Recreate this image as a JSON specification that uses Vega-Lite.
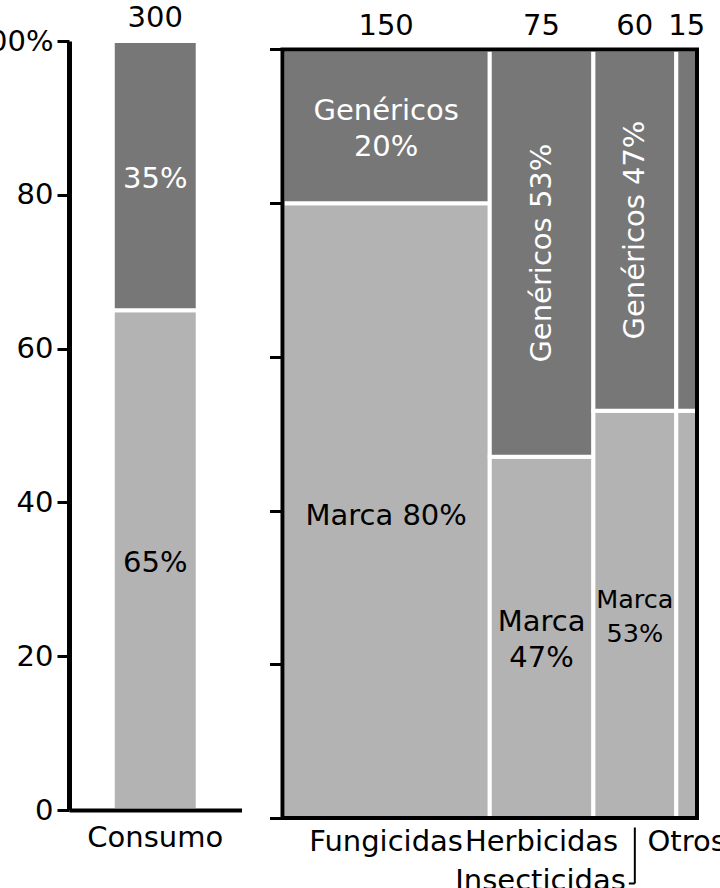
{
  "$schema": "https://vega.github.io/schema/vega-lite/v6.json",
  "padding": {"left": -30, "top": 4, "right": 0, "bottom": 0},
  "config": {"font": "DejaVu Sans", "view": {"stroke": null}, "axis": {"labelFont": "DejaVu Sans"}},
  "bounds": "flush",
  "spacing": 40.5,
  "hconcat": [
    {
      "width": 172.5,
      "height": 769,
      "data": {"values": [
        {"cat": "Consumo", "tipo": "Marca", "pct": 65, "vol": 300, "etiqueta": "65%"},
        {"cat": "Consumo", "tipo": "Genéricos", "pct": 35, "vol": 300, "etiqueta": "35%"}
      ]},
      "transform": [
        {"stack": "pct", "groupby": ["cat"], "sort": [{"field": "tipo", "order": "descending"}], "as": ["y0", "y1"]}
      ],
      "layer": [
        {
          "mark": {"type": "bar", "stroke": "white", "strokeWidth": 4},
          "encoding": {
            "x": {"field": "cat", "type": "nominal", "title": null, "scale": {"padding": 0.34},
              "axis": {"title": null, "labelAngle": 0, "ticks": false, "domainWidth": 4, "domainColor": "black", "labelFontSize": 29, "labelColor": "black", "labelPadding": 13, "zindex": 1}},
            "y": {"field": "y0", "type": "quantitative", "title": null, "scale": {"domain": [0, 100], "nice": false},
              "axis": {"title": null, "values": [0, 20, 40, 60, 80, 100], "labelExpr": "datum.value == 100 ? '100%' : datum.label", "domainWidth": 5, "domainColor": "black", "tickSize": 12, "tickWidth": 3, "tickColor": "black", "labelFontSize": 29, "labelColor": "black", "labelPadding": 4, "grid": false, "zindex": 1}},
            "y2": {"field": "y1"},
            "color": {"field": "tipo", "type": "nominal", "scale": {"domain": ["Marca", "Genéricos"], "range": ["#b3b3b3", "#777777"]}, "legend": null}
          }
        },
        {
          "transform": [
            {"fold": ["y0", "y1"], "as": ["ky", "yv"]},
            {"aggregate": [{"op": "mean", "field": "yv", "as": "ym"}], "groupby": ["cat", "tipo", "etiqueta"]}
          ],
          "mark": {"type": "text", "fontSize": 29, "align": "center", "baseline": "middle", "dy": 3},
          "encoding": {
            "x": {"field": "cat", "type": "nominal", "title": null},
            "y": {"field": "ym", "type": "quantitative", "title": null},
            "text": {"field": "etiqueta"},
            "color": {"condition": {"test": "datum.tipo === 'Marca'", "value": "black"}, "value": "white"}
          }
        },
        {
          "transform": [{"filter": "datum.tipo === 'Marca'"}],
          "mark": {"type": "text", "fontSize": 29, "align": "center", "baseline": "alphabetic", "dy": -14, "color": "black"},
          "encoding": {
            "x": {"field": "cat", "type": "nominal", "title": null},
            "y": {"datum": 100},
            "text": {"field": "vol"}
          }
        }
      ]
    },
    {
      "width": 414.5,
      "height": 777,
      "data": {"values": [
        {"cat": "Fungicidas", "tipo": "Marca", "pct": 80, "vol": 150, "etiqueta": "Marca 80%"},
        {"cat": "Fungicidas", "tipo": "Genéricos", "pct": 20, "vol": 150, "etiqueta": "Genéricos\n20%"},
        {"cat": "Herbicidas", "tipo": "Marca", "pct": 47, "vol": 75, "etiqueta": "Marca\n47%"},
        {"cat": "Herbicidas", "tipo": "Genéricos", "pct": 53, "vol": 75, "etiqueta": "Genéricos 53%"},
        {"cat": "Insecticidas", "tipo": "Marca", "pct": 53, "vol": 60, "etiqueta": "Marca\n53%"},
        {"cat": "Insecticidas", "tipo": "Genéricos", "pct": 47, "vol": 60, "etiqueta": "Genéricos 47%"},
        {"cat": "Otros", "tipo": "Marca", "pct": 53, "vol": 15, "etiqueta": ""},
        {"cat": "Otros", "tipo": "Genéricos", "pct": 47, "vol": 15, "etiqueta": ""}
      ]},
      "transform": [
        {"stack": "pct", "groupby": ["cat"], "sort": [{"field": "tipo", "order": "descending"}], "as": ["y0", "y1"]},
        {"stack": "vol", "groupby": ["tipo"], "sort": [{"field": "cat", "order": "ascending"}], "as": ["x0", "x1"]}
      ],
      "layer": [
        {
          "mark": {"type": "rect", "stroke": "white", "strokeWidth": 4},
          "encoding": {
            "x": {"field": "x0", "type": "quantitative", "title": null, "scale": {"domain": [0, 300], "nice": false}, "axis": null},
            "x2": {"field": "x1"},
            "y": {"field": "y0", "type": "quantitative", "title": null, "scale": {"domain": [0, 101.1], "nice": false},
              "axis": {"title": null, "values": [0, 20, 40, 60, 80, 100], "labels": false, "domain": false, "ticks": true, "tickSize": 13, "tickWidth": 3, "tickColor": "black", "grid": false, "zindex": 1}},
            "y2": {"field": "y1"},
            "color": {"field": "tipo", "type": "nominal", "scale": {"domain": ["Marca", "Genéricos"], "range": ["#b3b3b3", "#777777"]}, "legend": null}
          }
        },
        {
          "transform": [
            {"fold": ["x0", "x1"], "as": ["kx", "xv"]},
            {"fold": ["y0", "y1"], "as": ["ky", "yv"]},
            {"aggregate": [{"op": "mean", "field": "xv", "as": "xm"}, {"op": "mean", "field": "yv", "as": "ym"}], "groupby": ["cat", "tipo", "etiqueta"]},
            {"filter": "(datum.cat === 'Fungicidas' && datum.tipo === 'Genéricos') || (datum.cat === 'Herbicidas' && datum.tipo === 'Marca')"}
          ],
          "mark": {"type": "text", "fontSize": 29, "align": "center", "baseline": "middle", "lineBreak": "\n", "lineHeight": 36, "dy": -15},
          "encoding": {
            "x": {"field": "xm", "type": "quantitative", "title": null},
            "y": {"field": "ym", "type": "quantitative", "title": null},
            "text": {"field": "etiqueta"},
            "color": {"condition": {"test": "datum.tipo === 'Marca'", "value": "black"}, "value": "white"}
          }
        },
        {
          "transform": [
            {"fold": ["x0", "x1"], "as": ["kx", "xv"]},
            {"fold": ["y0", "y1"], "as": ["ky", "yv"]},
            {"aggregate": [{"op": "mean", "field": "xv", "as": "xm"}, {"op": "mean", "field": "yv", "as": "ym"}], "groupby": ["cat", "tipo", "etiqueta"]},
            {"filter": "datum.cat === 'Fungicidas' && datum.tipo === 'Marca'"}
          ],
          "mark": {"type": "text", "fontSize": 29, "align": "center", "baseline": "middle", "dy": 5, "color": "black"},
          "encoding": {
            "x": {"field": "xm", "type": "quantitative", "title": null},
            "y": {"field": "ym", "type": "quantitative", "title": null},
            "text": {"field": "etiqueta"}
          }
        },
        {
          "transform": [
            {"fold": ["x0", "x1"], "as": ["kx", "xv"]},
            {"fold": ["y0", "y1"], "as": ["ky", "yv"]},
            {"aggregate": [{"op": "mean", "field": "xv", "as": "xm"}, {"op": "mean", "field": "yv", "as": "ym"}], "groupby": ["cat", "tipo", "etiqueta"]},
            {"filter": "(datum.cat === 'Herbicidas' || datum.cat === 'Insecticidas') && datum.tipo === 'Genéricos'"}
          ],
          "mark": {"type": "text", "fontSize": 29, "align": "center", "baseline": "middle", "angle": 270, "color": "white"},
          "encoding": {
            "x": {"field": "xm", "type": "quantitative", "title": null},
            "y": {"field": "ym", "type": "quantitative", "title": null},
            "text": {"field": "etiqueta"}
          }
        },
        {
          "transform": [
            {"fold": ["x0", "x1"], "as": ["kx", "xv"]},
            {"fold": ["y0", "y1"], "as": ["ky", "yv"]},
            {"aggregate": [{"op": "mean", "field": "xv", "as": "xm"}, {"op": "mean", "field": "yv", "as": "ym"}], "groupby": ["cat", "tipo", "etiqueta"]},
            {"filter": "datum.cat === 'Insecticidas' && datum.tipo === 'Marca'"}
          ],
          "mark": {"type": "text", "fontSize": 25.5, "align": "center", "baseline": "middle", "lineBreak": "\n", "lineHeight": 34, "dy": -14, "color": "black"},
          "encoding": {
            "x": {"field": "xm", "type": "quantitative", "title": null},
            "y": {"field": "ym", "type": "quantitative", "title": null},
            "text": {"field": "etiqueta"}
          }
        },
        {
          "transform": [
            {"fold": ["x0", "x1"], "as": ["kx", "xv"]},
            {"aggregate": [{"op": "mean", "field": "xv", "as": "xm"}], "groupby": ["cat", "tipo", "vol"]},
            {"filter": "datum.tipo === 'Marca'"}
          ],
          "mark": {"type": "text", "fontSize": 29, "align": "center", "baseline": "alphabetic", "dy": -14, "color": "black"},
          "encoding": {
            "x": {"field": "xm", "type": "quantitative", "title": null},
            "y": {"datum": 100},
            "text": {"field": "vol"}
          }
        },
        {
          "transform": [
            {"fold": ["x0", "x1"], "as": ["kx", "xv"]},
            {"aggregate": [{"op": "mean", "field": "xv", "as": "xm"}], "groupby": ["cat", "tipo"]},
            {"filter": "datum.tipo === 'Marca' && datum.cat !== 'Insecticidas'"}
          ],
          "mark": {"type": "text", "fontSize": 29, "align": "center", "baseline": "alphabetic", "dy": 33, "color": "black"},
          "encoding": {
            "x": {"field": "xm", "type": "quantitative", "title": null},
            "y": {"datum": 0},
            "text": {"field": "cat"}
          }
        },
        {
          "transform": [
            {"fold": ["x0", "x1"], "as": ["kx", "xv"]},
            {"aggregate": [{"op": "mean", "field": "xv", "as": "xm"}], "groupby": ["cat", "tipo"]},
            {"filter": "datum.tipo === 'Marca' && datum.cat === 'Insecticidas'"}
          ],
          "layer": [
            {
              "mark": {"type": "text", "fontSize": 29, "align": "right", "baseline": "alphabetic", "dx": -9, "dy": 72, "color": "black"},
              "encoding": {
                "x": {"field": "xm", "type": "quantitative", "title": null},
                "y": {"datum": 0},
                "text": {"field": "cat"}
              }
            },
            {
              "mark": {"type": "rule", "color": "black", "strokeWidth": 2, "yOffset": 9.5, "y2Offset": 65.5},
              "encoding": {
                "x": {"field": "xm", "type": "quantitative", "title": null},
                "y": {"datum": 0},
                "y2": {"datum": 0}
              }
            },
            {
              "mark": {"type": "rule", "color": "black", "strokeWidth": 2, "xOffset": -6, "yOffset": 65.5},
              "encoding": {
                "x": {"field": "xm", "type": "quantitative", "title": null},
                "x2": {"field": "xm"},
                "y": {"datum": 0}
              }
            }
          ]
        },
        {
          "transform": [
            {"aggregate": [{"op": "min", "field": "x0", "as": "xa"}, {"op": "max", "field": "x1", "as": "xb"}, {"op": "min", "field": "y0", "as": "ya"}, {"op": "max", "field": "y1", "as": "yb"}]}
          ],
          "mark": {"type": "rect", "filled": false, "stroke": "black", "strokeWidth": 4},
          "encoding": {
            "x": {"field": "xa", "type": "quantitative", "title": null},
            "x2": {"field": "xb"},
            "y": {"field": "ya", "type": "quantitative", "title": null},
            "y2": {"field": "yb"}
          }
        }
      ]
    }
  ]
}
